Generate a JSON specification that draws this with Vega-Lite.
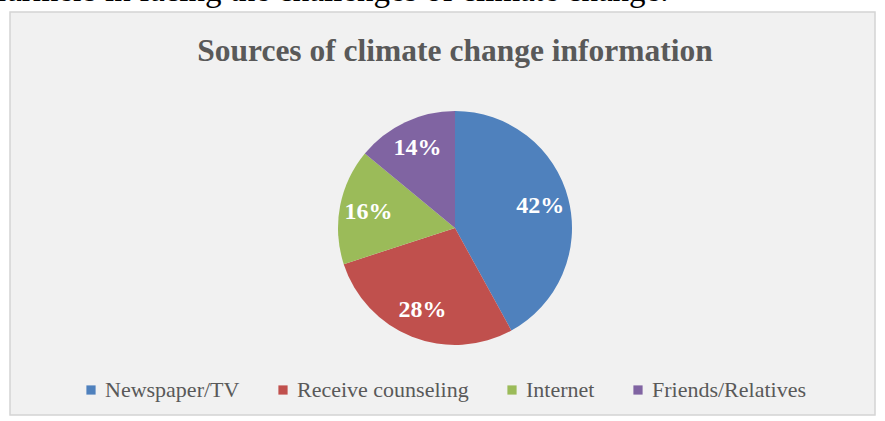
{
  "$schema": "https://vega.github.io/schema/vega-lite/v6.json",
  "width": 865,
  "height": 403,
  "autosize": {"type": "none"},
  "padding": {"left": 10, "top": 12, "right": 10, "bottom": 6},
  "background": "white",
  "view": {"fill": "#f1f1f1", "stroke": "#d4d4d4", "strokeWidth": 1.5},
  "title": {
    "text": "farmers in facing the challenges of climate change.",
    "anchor": "start",
    "frame": "group",
    "font": "Liberation Serif",
    "fontSize": 33,
    "fontWeight": "normal",
    "color": "#000000",
    "baseline": "alphabetic",
    "offset": -22,
    "dx": -14
  },
  "data": {
    "values": [
      {"source": "Newspaper/TV", "share": 42, "label": "42%", "rank": 1},
      {"source": "Receive counseling", "share": 28, "label": "28%", "rank": 2},
      {"source": "Internet", "share": 16, "label": "16%", "rank": 3},
      {"source": "Friends/Relatives", "share": 14, "label": "14%", "rank": 4}
    ]
  },
  "layer": [
    {
      "mark": {"type": "arc", "outerRadius": 117, "xOffset": 12.5, "yOffset": 14.5},
      "encoding": {
        "theta": {"field": "share", "type": "quantitative", "stack": true},
        "order": {"field": "rank", "type": "quantitative"},
        "color": {
          "field": "source",
          "type": "nominal",
          "scale": {
            "domain": ["Newspaper/TV", "Receive counseling", "Internet", "Friends/Relatives"],
            "range": ["#4F81BD", "#C0504D", "#9BBB59", "#8064A2"]
          },
          "legend": {
            "title": null,
            "orient": "bottom",
            "direction": "horizontal",
            "offset": -36
          }
        }
      }
    },
    {
      "mark": {
        "type": "text",
        "radius": 88,
        "xOffset": 12.5,
        "yOffset": 14.5,
        "font": "Liberation Serif",
        "fontSize": 24,
        "fontWeight": "bold",
        "color": "#ffffff"
      },
      "encoding": {
        "theta": {"field": "share", "type": "quantitative", "stack": true},
        "order": {"field": "rank", "type": "quantitative"},
        "text": {"field": "label", "type": "nominal"}
      }
    },
    {
      "data": {"values": [{"heading": "Sources of climate change information"}]},
      "mark": {
        "type": "text",
        "dx": 12.5,
        "dy": -152.5,
        "baseline": "alphabetic",
        "font": "Liberation Serif",
        "fontSize": 31.5,
        "fontWeight": "bold",
        "color": "#595959"
      },
      "encoding": {"text": {"field": "heading", "type": "nominal"}}
    }
  ],
  "config": {
    "font": "Liberation Serif",
    "style": {"guide-label": {"font": "Liberation Serif"}},
    "legend": {
      "symbolType": "square",
      "symbolSize": 85,
      "symbolStrokeWidth": 0,
      "labelFont": "Liberation Serif",
      "labelFontSize": 22,
      "labelColor": "#595959",
      "labelLimit": 400,
      "columnPadding": 32,
      "labelOffset": 3,
      "layout": {"bottom": {"anchor": "middle"}}
    }
  }
}
